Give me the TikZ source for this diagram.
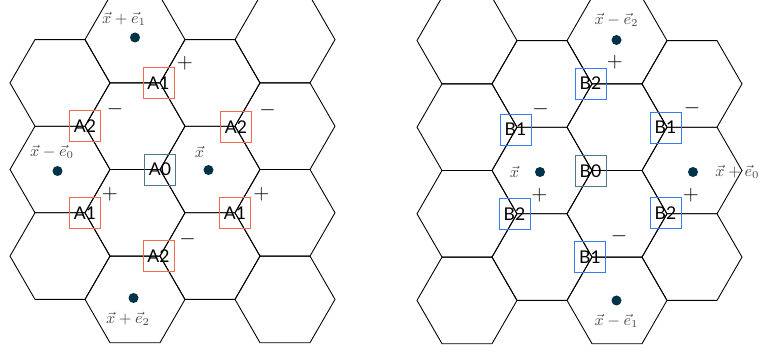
\documentclass[tikz,border=0pt]{standalone}
\usepackage{fontspec}
\usepackage{tikz}
\usetikzlibrary{positioning}
\newfontfamily\boxfont{Lato}
\definecolor{redbox}{RGB}{245,105,80}
\definecolor{bluebox}{RGB}{55,125,240}
\definecolor{slatebox}{RGB}{80,120,140}
\definecolor{dotcol}{RGB}{0,50,72}
\definecolor{lblgray}{RGB}{75,75,75}

\begin{document}
\begin{tikzpicture}[x=1cm,y=1cm,node distance=0.1cm]
  \tikzstyle{cell}=[line width=0.5pt]
  \tikzstyle{site}=[draw,minimum size=0.62cm,inner sep=0pt,line width=0.5pt,font=\boxfont\fontsize{10}{11}\selectfont]
  \tikzstyle{asite}=[site,draw=redbox]
  \tikzstyle{bsite}=[site,draw=bluebox]
  \tikzstyle{zsite}=[site,draw=slatebox]
  \tikzstyle{sgn}=[inner sep=0pt,font=\large]
  \tikzstyle{dot}=[circle,fill=dotcol,minimum size=0.2cm,inner sep=0pt]
  \tikzstyle{lbl}=[text=lblgray,font=\small,inner sep=1pt]
  \useasboundingbox (0,0) rectangle (15.2,7.04);
  \clip (0,0) rectangle (15.2,7.04);
  % left lattice
  \foreach \i in {0,2} \foreach \k in {-1,0,1}
    \draw[cell] ({1.2+1.5*\i+1},{3.65+1.732*\k}) -- ++(120:1) -- ++(-1,0) -- ++(240:1) -- ++(300:1) -- ++(1,0) -- cycle;
  \foreach \i in {1,3} \foreach \k in {-1.5,-0.5,0.5,1.5}
    \draw[cell] ({1.2+1.5*\i+1},{3.65+1.732*\k}) -- ++(120:1) -- ++(-1,0) -- ++(240:1) -- ++(300:1) -- ++(1,0) -- cycle;
  % right lattice
  \foreach \i in {0,2} \foreach \k in {-1.5,-0.5,0.5,1.5}
    \draw[cell] ({9.34+1.5*\i+1},{3.63+1.732*\k}) -- ++(120:1) -- ++(-1,0) -- ++(240:1) -- ++(300:1) -- ++(1,0) -- cycle;
  \foreach \i in {1,3} \foreach \k in {-1,0,1}
    \draw[cell] ({9.34+1.5*\i+1},{3.63+1.732*\k}) -- ++(120:1) -- ++(-1,0) -- ++(240:1) -- ++(300:1) -- ++(1,0) -- cycle;

  % A sites
  \node[zsite] (a0) at (3.2,3.65) {A0};
  \node[asite] (a1t) at (3.17,5.38) {A1};
  \node[asite] (a2l) at (1.7,4.516) {A2};
  \node[asite] (a2r) at (4.72,4.5) {A2};
  \node[asite] (a1l) at (1.7,2.784) {A1};
  \node[asite] (a1r) at (4.7,2.784) {A1};
  \node[asite] (a2b) at (3.17,1.918) {A2};
  \node[sgn] at ([shift={(0.53,0.4)}]a1t) {$+$};
  \node[sgn] at ([shift={(0.6,0.34)}]a2l) {$-$};
  \node[sgn] at ([shift={(0.63,0.34)}]a2r) {$-$};
  \node[sgn] at ([shift={(0.5,0.38)}]a1l) {$+$};
  \node[sgn] at ([shift={(0.53,0.38)}]a1r) {$+$};
  \node[sgn] at ([shift={(0.58,0.34)}]a2b) {$-$};

  % B sites
  \node[zsite] (b0) at (11.81,3.62) {B0};
  \node[bsite] (b2t) at (11.81,5.37) {B2};
  \node[bsite] (b1l) at (10.31,4.45) {B1};
  \node[bsite] (b1r) at (13.31,4.49) {B1};
  \node[bsite] (b2l) at (10.29,2.76) {B2};
  \node[bsite] (b2r) at (13.31,2.78) {B2};
  \node[bsite] (b1b) at (11.8,1.9) {B1};
  \node[sgn] at ([shift={(0.49,0.42)}]b2t) {$+$};
  \node[sgn] at ([shift={(0.5,0.41)}]b1l) {$-$};
  \node[sgn] at ([shift={(0.53,0.38)}]b1r) {$-$};
  \node[sgn] at ([shift={(0.5,0.38)}]b2l) {$+$};
  \node[sgn] at ([shift={(0.51,0.36)}]b2r) {$+$};
  \node[sgn] at ([shift={(0.58,0.41)}]b1b) {$-$};

  % cell centres, left
  \node[dot] (xl) at (4.17,3.64) {};
  \node[dot] (xme0) at (1.15,3.62) {};
  \node[dot] (xpe1) at (2.7,6.29) {};
  \node[dot] (xpe2) at (2.67,1.08) {};
  \node[lbl,above=of xl,xshift=-0.18cm] (txl) {$\vec{x}$};
  \node[lbl,above=of xme0,xshift=-0.11cm] (txme0) {$\vec{x}-\vec{e}_0$};
  \node[lbl,above=of xpe1,xshift=-0.22cm] (txpe1) {$\vec{x}+\vec{e}_1$};
  \node[lbl,below=0.13cm of xpe2,xshift=-0.11cm] (txpe2) {$\vec{x}+\vec{e}_2$};

  % cell centres, right
  \node[dot] (xr) at (10.8,3.6) {};
  \node[dot] (xpe0) at (13.86,3.6) {};
  \node[dot] (xme2) at (12.33,6.24) {};
  \node[dot] (xme1) at (12.33,1.03) {};
  \node[lbl,left=0.27cm of xr] (txr) {$\vec{x}$};
  \node[lbl,right=0.3cm of xpe0] (txpe0) {$\vec{x}+\vec{e}_0$};
  \node[lbl,above=0.12cm of xme2] (txme2) {$\vec{x}-\vec{e}_2$};
  \node[lbl,below=0.13cm of xme1] (txme1) {$\vec{x}-\vec{e}_1$};
\end{tikzpicture}
\end{document}
